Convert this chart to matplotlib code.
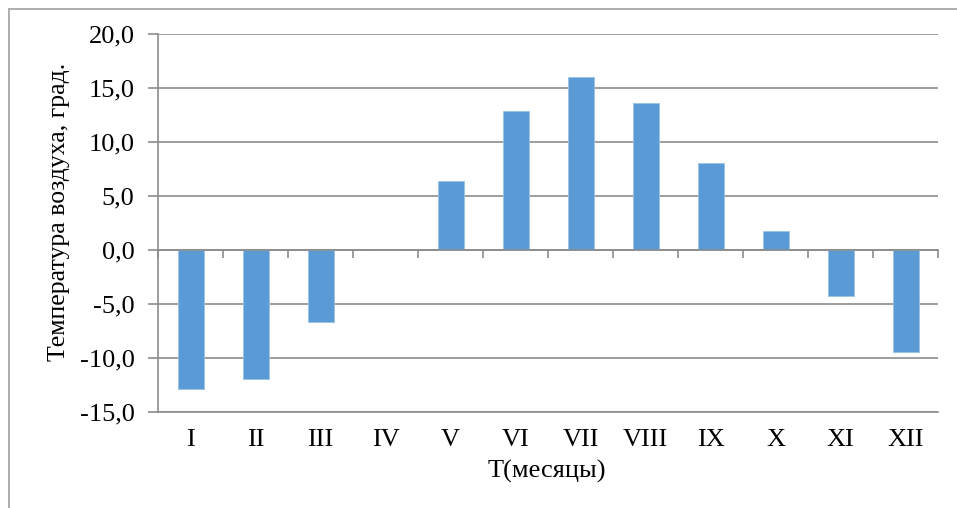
import matplotlib
matplotlib.use("Agg")
import matplotlib.pyplot as plt
from matplotlib.patches import Rectangle
from matplotlib.ticker import FuncFormatter, FixedLocator
import numpy as np

months = ["I", "II", "III", "IV", "V", "VI", "VII", "VIII", "IX", "X", "XI", "XII"]
temps = [-12.9, -11.9, -6.7, 0.0, 6.4, 12.9, 16.0, 13.6, 8.1, 1.8, -4.3, -9.4]
y_ticks = [-15, -10, -5, 0, 5, 10, 15, 20]

plt.rcParams["font.family"] = ["Liberation Serif", "DejaVu Serif"]

W, H = 957, 508
fig = plt.figure(figsize=(W / 100, H / 100), dpi=100)
fig.patch.set_facecolor("white")

# outer chart frame
fig.add_artist(Rectangle((8.5 / W, -0.2), 1.5, 1.2 - 9 / H, transform=fig.transFigure,
                         fill=False, edgecolor="#a6a6a6", linewidth=1.3, clip_on=False))

ax = fig.add_axes([158 / W, 1 - 412 / H, (938 - 158) / W, (412 - 34) / H])

x = np.arange(len(months))
ax.bar(x, temps, width=0.4, color="#5b9bd5", edgecolor="#9cc3e5", linewidth=0.6, zorder=3)

ax.set_xlim(-0.5, len(months) - 0.5)
ax.set_ylim(min(y_ticks), max(y_ticks))

grid_c = "#8c8c8c"
ax.set_yticks(y_ticks)
ax.yaxis.set_major_formatter(FuncFormatter(lambda v, p: f"{v:.1f}".replace(".", ",")))
ax.grid(axis="y", color=grid_c, linewidth=1.2, zorder=0)
ax.tick_params(axis="y", direction="out", length=7, width=1.2, color=grid_c,
               labelsize=19, pad=10, labelcolor="black")

# category labels along the bottom
ax.set_xticks(x)
ax.set_xticklabels(months)
ax.tick_params(axis="x", bottom=False, length=0, labelsize=19, pad=12, labelcolor="black")

# zero line as the category axis, with tick marks between categories
ax.spines["top"].set_position(("data", 0))
ax.spines["top"].set_color(grid_c)
ax.spines["top"].set_linewidth(1.2)
ax.spines["top"].set_zorder(4)
ax.xaxis.set_minor_locator(FixedLocator(np.arange(len(months) + 1) - 0.5))
ax.tick_params(axis="x", which="minor", top=True, bottom=False, direction="in",
               length=6, width=1.2, color=grid_c)
ax.tick_params(axis="x", which="major", top=False)

ax.spines["right"].set_visible(False)
ax.spines["bottom"].set_color(grid_c)
ax.spines["bottom"].set_linewidth(1.2)
ax.spines["left"].set_color(grid_c)
ax.spines["left"].set_linewidth(1.2)

fig.text(59 / W, 1 - 212 / H, "Температура воздуха, град.", rotation=90,
         ha="center", va="center", fontsize=18.5)
fig.text(547 / W, 1 - 471 / H, "Т(месяцы)", ha="center", va="center", fontsize=19)

fig.savefig("out.png", dpi=100, facecolor="white")
